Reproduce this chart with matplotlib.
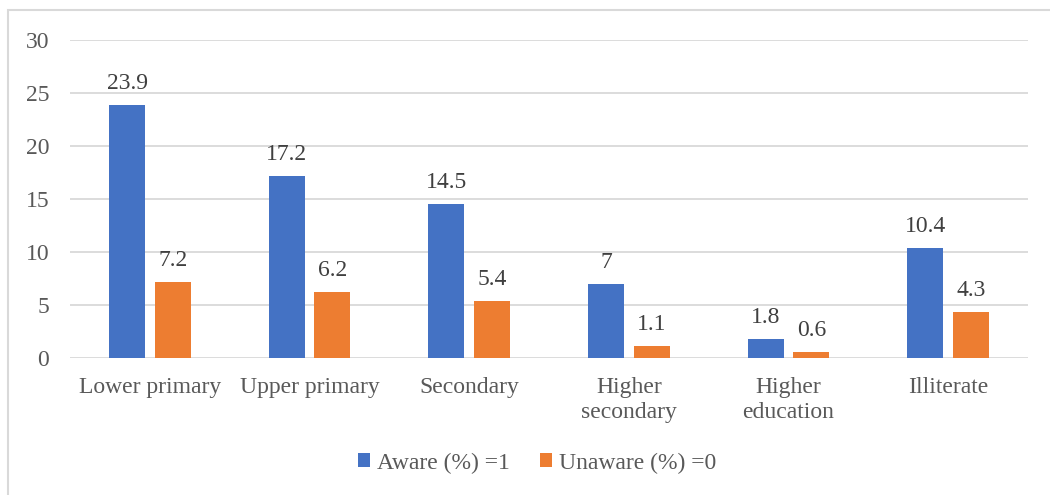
import matplotlib.pyplot as plt
import numpy as np
from matplotlib.patches import Rectangle

categories = ["Lower primary", "Upper primary", "Secondary",
              "Higher\nsecondary", "Higher\neducation", "Illiterate"]
aware = [23.9, 17.2, 14.5, 7, 1.8, 10.4]
unaware = [7.2, 6.2, 5.4, 1.1, 0.6, 4.3]
labels = ["Aware (%) =1", "Unaware (%) =0"]

plt.rcParams['font.family'] = ['Liberation Serif', 'DejaVu Serif']
grey = "#595959"
fs = 17

fig = plt.figure(figsize=(10.5, 4.95), dpi=100)
ax = fig.add_axes([70 / 1050, 1 - 358 / 495, 958 / 1050, 318 / 495])

# outer chart border (runs off the right and bottom edges)
fig.patches.append(Rectangle((8 / 1050, -0.1), 1.2, 1 - 10 / 495 + 0.1,
                             transform=fig.transFigure, fill=False,
                             edgecolor="#d9d9d9", lw=1.5))

x = np.arange(len(categories))
w = 0.225
b1 = ax.bar(x - 0.143, aware, w, color="#4472c4", label=labels[0], zorder=3)
b2 = ax.bar(x + 0.143, unaware, w, color="#ed7d31", label=labels[1], zorder=3)

for bars in (b1, b2):
    ax.bar_label(bars, labels=[f"{v:g}" for v in bars.datavalues],
                 padding=8, fontsize=fs, color="#404040")

ax.set_xlim(-0.5, len(categories) - 0.5)
ax.set_ylim(0, 30)
ax.set_yticks(range(0, 31, 5))
ax.set_xticks(x)
ax.set_xticklabels(categories, linespacing=1.25)
ax.tick_params(length=0, labelsize=fs, colors=grey, pad=14)
ax.tick_params(axis="y", pad=15)
ax.grid(axis="y", color="#d9d9d9", lw=1.3, zorder=0)
for s in ax.spines.values():
    s.set_visible(False)

fig.legend(loc="center", bbox_to_anchor=(537 / 1050, 1 - 463 / 495), ncol=2,
           frameon=False, fontsize=fs, handlelength=0.5, handleheight=0.5,
           handletextpad=0.3, columnspacing=1.3, labelcolor=grey)

plt.savefig("out.png", dpi=100)
